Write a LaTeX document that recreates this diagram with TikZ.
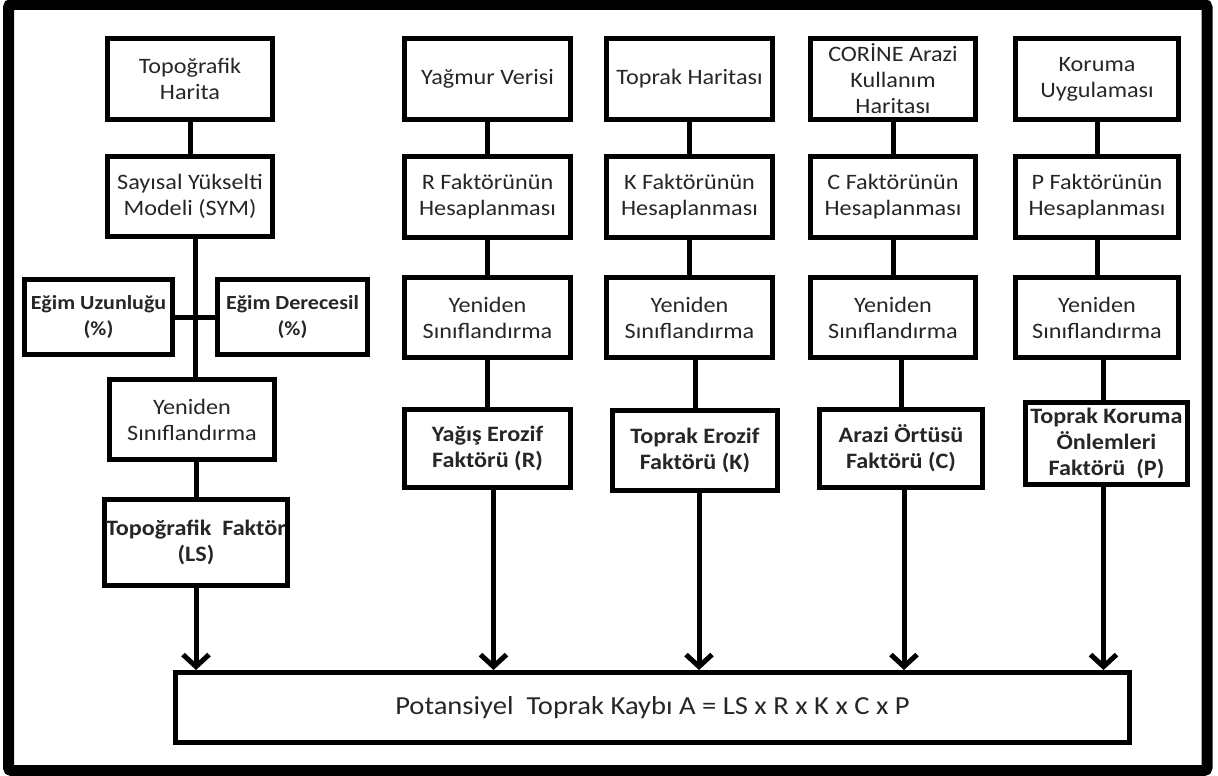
\documentclass[tikz,border=0pt]{standalone}
\usepackage{fontspec}
\setmainfont{Carlito}[FakeStretch=1.1]
\usetikzlibrary{arrows.meta}
\begin{document}
\begin{tikzpicture}[x=1pt,y=-1pt,
  box/.style={draw, line width=5pt, inner sep=0pt, align=center,
    font=\fontsize{22}{26}\selectfont, text=black!85,
    minimum width=165pt, minimum height=80pt},
  bbox/.style={box, font=\fontsize{22}{26}\selectfont\bfseries},
  conn/.style={line width=5pt},
  arr/.style={line width=5pt, -{Straight Barb[length=12pt,width=26pt]}}]
\useasboundingbox (0,0) rectangle (1218,776);
% frame
\draw[line width=11pt, rounded corners=3pt] (8.5,4.5) rectangle (1207,770.5);

% column LS
\node[box, minimum height=81pt] (topo) at (190,79) {Topoğrafik\\Harita};
\node[box] (sym) at (190,196.5) {Sayısal Yükselti\\Modeli (SYM)};
\node[bbox, minimum width=148pt, minimum height=75pt, font=\fontsize{20}{26}\selectfont\bfseries] (eu) at (98.5,317) {Eğim Uzunluğu\\(\%)};
\node[bbox, minimum width=150pt, minimum height=75pt, font=\fontsize{20}{26}\selectfont\bfseries] (ed) at (292.5,317) {Eğim Derecesil\\(\%)};
\node[box] (yen1) at (192,419.5) {Yeniden\\Sınıflandırma};
\node[bbox, minimum width=183pt, minimum height=86pt] (ls) at (196,542.5) {Topoğrafik\ \ Faktör\\(LS)};

% column R
\node[box, minimum width=166pt, minimum height=81pt] (yagmur) at (487.5,79) {Yağmur Verisi};
\node[box, minimum width=166pt, minimum height=81pt] (rf) at (487.5,197) {R Faktörünün\\Hesaplanması};
\node[box, minimum width=166pt] (yenr) at (487.5,317.5) {Yeniden\\Sınıflandırma};
\node[bbox, minimum width=166pt, minimum height=78pt] (yagis) at (487.5,448.5) {Yağış Erozif\\Faktörü (R)};

% column K
\node[box, minimum width=166pt, minimum height=81pt] (toprakh) at (689.5,79) {Toprak Haritası};
\node[box, minimum width=166pt, minimum height=81pt] (kf) at (689.5,197) {K Faktörünün\\Hesaplanması};
\node[box, minimum width=166pt] (yenk) at (689.5,317.5) {Yeniden\\Sınıflandırma};
\node[bbox, minimum width=165pt] (te) at (695,450.5) {Toprak Erozif\\Faktörü (K)};

% column C
\node[box, minimum width=165pt, minimum height=81pt] (corine) at (893,79) {CORİNE Arazi\\Kullanım\\Haritası};
\node[box, minimum width=165pt, minimum height=81pt] (cf) at (893,197) {C Faktörünün\\Hesaplanması};
\node[box, minimum width=165pt] (yenc) at (893,317.5) {Yeniden\\Sınıflandırma};
\node[bbox, minimum width=163pt, minimum height=78pt] (arazi) at (901,448.5) {Arazi Örtüsü\\Faktörü (C)};

% column P
\node[box, minimum width=163pt, minimum height=81pt] (koruma) at (1097,79) {Koruma\\Uygulaması};
\node[box, minimum width=163pt, minimum height=81pt] (pf) at (1097,197) {P Faktörünün\\Hesaplanması};
\node[box, minimum width=163pt] (yenp) at (1097,317.5) {Yeniden\\Sınıflandırma};
\node[bbox, minimum width=162pt, minimum height=82pt] (tko) at (1106.5,443.5) {Toprak Koruma\\Önlemleri\\Faktörü\ \ (P)};

% bottom
\node[box, minimum width=954pt, minimum height=70pt, font=\fontsize{26}{30}\selectfont] (bot) at (652.5,707.5) {Potansiyel\ \ Toprak Kaybı A = LS x R x K x C x P};

% connectors LS column
\draw[conn] (topo) -- (sym);
\draw[conn] ([xshift=5pt]sym.south) -- ([xshift=5pt]sym.south |- yen1.north);
\draw[conn] (eu.east) -- (ed.west);
\draw[conn] (yen1.south -| ls.north) -- (ls.north);
\draw[arr] (ls.south) -- (ls.south |- bot.north);

% R column
\draw[conn] (yagmur) -- (rf);
\draw[conn] (rf) -- (yenr);
\draw[conn] (yenr) -- (yagis);
\draw[arr] ([xshift=6pt]yagis.south) -- ([xshift=6pt]yagis.south |- bot.north);

% K column
\draw[conn] (toprakh) -- (kf);
\draw[conn] (kf) -- (yenk);
\draw[conn] (yenk.south -| te.north) -- (te.north);
\draw[arr] ([xshift=4pt]te.south) -- ([xshift=4pt]te.south |- bot.north);

% C column
\draw[conn] (corine) -- (cf);
\draw[conn] (cf) -- (yenc);
\draw[conn] (yenc.south -| arazi.north) -- (arazi.north);
\draw[arr] ([xshift=3pt]arazi.south) -- ([xshift=3pt]arazi.south |- bot.north);

% P column
\draw[conn] (koruma) -- (pf);
\draw[conn] (pf) -- (yenp);
\draw[conn] ([xshift=6pt]yenp.south) -- ([xshift=6pt]yenp.south |- tko.north);
\draw[arr] ([xshift=-3pt]tko.south) -- ([xshift=-3pt]tko.south |- bot.north);
\end{tikzpicture}
\end{document}
